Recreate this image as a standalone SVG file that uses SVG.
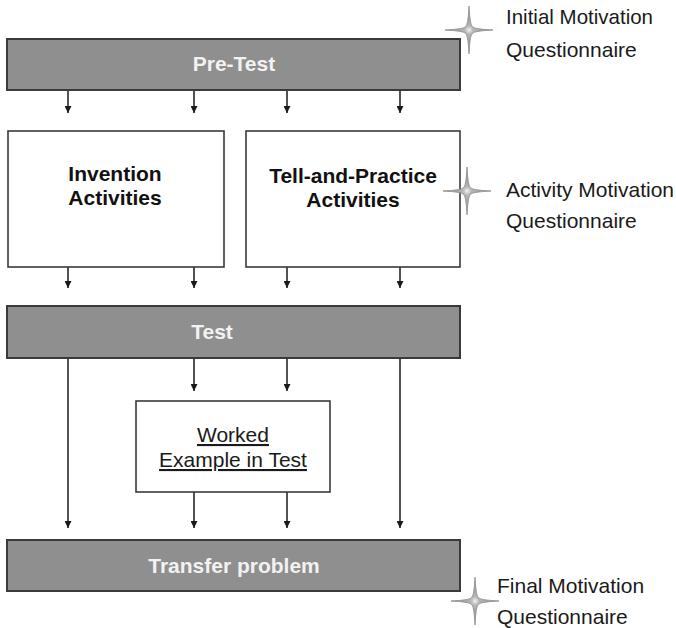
<svg xmlns="http://www.w3.org/2000/svg" width="676" height="628" viewBox="0 0 676 628">
<defs>
<style>
.gbox{fill:#8f8f8f;stroke:#3a3a3a;stroke-width:2}
.wbox{fill:#fff;stroke:#3a3a3a;stroke-width:1.6}
.wt{font-family:"Liberation Sans",Arial,sans-serif;font-weight:bold;font-size:21px;fill:#f2f2f2;text-anchor:middle}
.bt{font-family:"Liberation Sans",Arial,sans-serif;font-weight:bold;font-size:21px;fill:#111;text-anchor:middle}
.nt{font-family:"Liberation Sans",Arial,sans-serif;font-size:21px;fill:#1a1a1a}
.ut{font-family:"Liberation Sans",Arial,sans-serif;font-size:21px;fill:#1a1a1a;text-anchor:middle;text-decoration:underline}
.ar{stroke:#1a1a1a;stroke-width:1.5;fill:none;marker-end:url(#ah)}
.star{fill:url(#sg);stroke:#8a8a8a;stroke-width:0.8}
</style>
<marker id="ah" viewBox="0 0 10 10" refX="10" refY="5" markerWidth="7" markerHeight="7" markerUnits="userSpaceOnUse" orient="auto">
<path d="M0,0 L10,5 L0,10 z" fill="#1a1a1a"/>
</marker>
<radialGradient id="sg" cx="0.5" cy="0.5" r="0.5">
<stop offset="0" stop-color="#f2f2f2"/>
<stop offset="0.18" stop-color="#b4b4b4"/>
<stop offset="1" stop-color="#8e8e8e"/>
</radialGradient>
<path id="star" d="M0,-24 Q1,-4 3.5,-3.5 Q4,-1 24,0 Q4,1 3.5,3.5 Q1,4 0,24 Q-1,4 -3.5,3.5 Q-4,1 -24,0 Q-4,-1 -3.5,-3.5 Q-1,-4 0,-24 z"/>
</defs>
<g id="connectors">
<line class="ar" x1="68" y1="91" x2="68" y2="113"/>
<line class="ar" x1="194" y1="91" x2="194" y2="113"/>
<line class="ar" x1="287" y1="91" x2="287" y2="113"/>
<line class="ar" x1="400" y1="91" x2="400" y2="113"/>
<line class="ar" x1="68" y1="267" x2="68" y2="288"/>
<line class="ar" x1="194" y1="267" x2="194" y2="288"/>
<line class="ar" x1="287" y1="267" x2="287" y2="288"/>
<line class="ar" x1="400" y1="267" x2="400" y2="288"/>
<line class="ar" x1="194" y1="358" x2="194" y2="391"/>
<line class="ar" x1="287" y1="358" x2="287" y2="391"/>
<line class="ar" x1="68" y1="358" x2="68" y2="528"/>
<line class="ar" x1="400" y1="358" x2="400" y2="528"/>
<line class="ar" x1="194" y1="492" x2="194" y2="528"/>
<line class="ar" x1="287" y1="492" x2="287" y2="528"/>
</g>
<g id="pretest">
<rect class="gbox" x="7" y="39" width="453" height="51"/>
<text class="wt" x="234" y="71">Pre-Test</text>
</g>
<g id="initial-motivation">
<use href="#star" class="star" x="469" y="30"/>
<text class="nt" x="506" y="24" textLength="147" lengthAdjust="spacingAndGlyphs">Initial Motivation</text>
<text class="nt" x="506" y="57">Questionnaire</text>
</g>
<g id="invention">
<rect class="wbox" x="8" y="131" width="216" height="136"/>
<text class="bt" x="115" y="181">Invention</text>
<text class="bt" x="115" y="205">Activities</text>
</g>
<g id="tell-practice">
<rect class="wbox" x="246" y="131" width="214" height="136"/>
<text class="bt" x="353" y="183">Tell-and-Practice</text>
<text class="bt" x="353" y="207">Activities</text>
</g>
<g id="activity-motivation">
<use href="#star" class="star" x="467" y="191"/>
<text class="nt" x="506" y="197">Activity Motivation</text>
<text class="nt" x="506" y="228">Questionnaire</text>
</g>
<g id="test">
<rect class="gbox" x="7" y="306" width="453" height="52"/>
<text class="wt" x="212" y="339">Test</text>
</g>
<g id="worked-example">
<rect class="wbox" x="136" y="401" width="194" height="91"/>
<text class="ut" x="233" y="442">Worked</text>
<text class="ut" x="233" y="467">Example in Test</text>
</g>
<g id="transfer">
<rect class="gbox" x="7" y="540" width="453" height="51"/>
<text class="wt" x="234" y="573">Transfer problem</text>
</g>
<g id="final-motivation">
<use href="#star" class="star" x="475" y="601"/>
<text class="nt" x="497" y="593">Final Motivation</text>
<text class="nt" x="497" y="624">Questionnaire</text>
</g>
</svg>
